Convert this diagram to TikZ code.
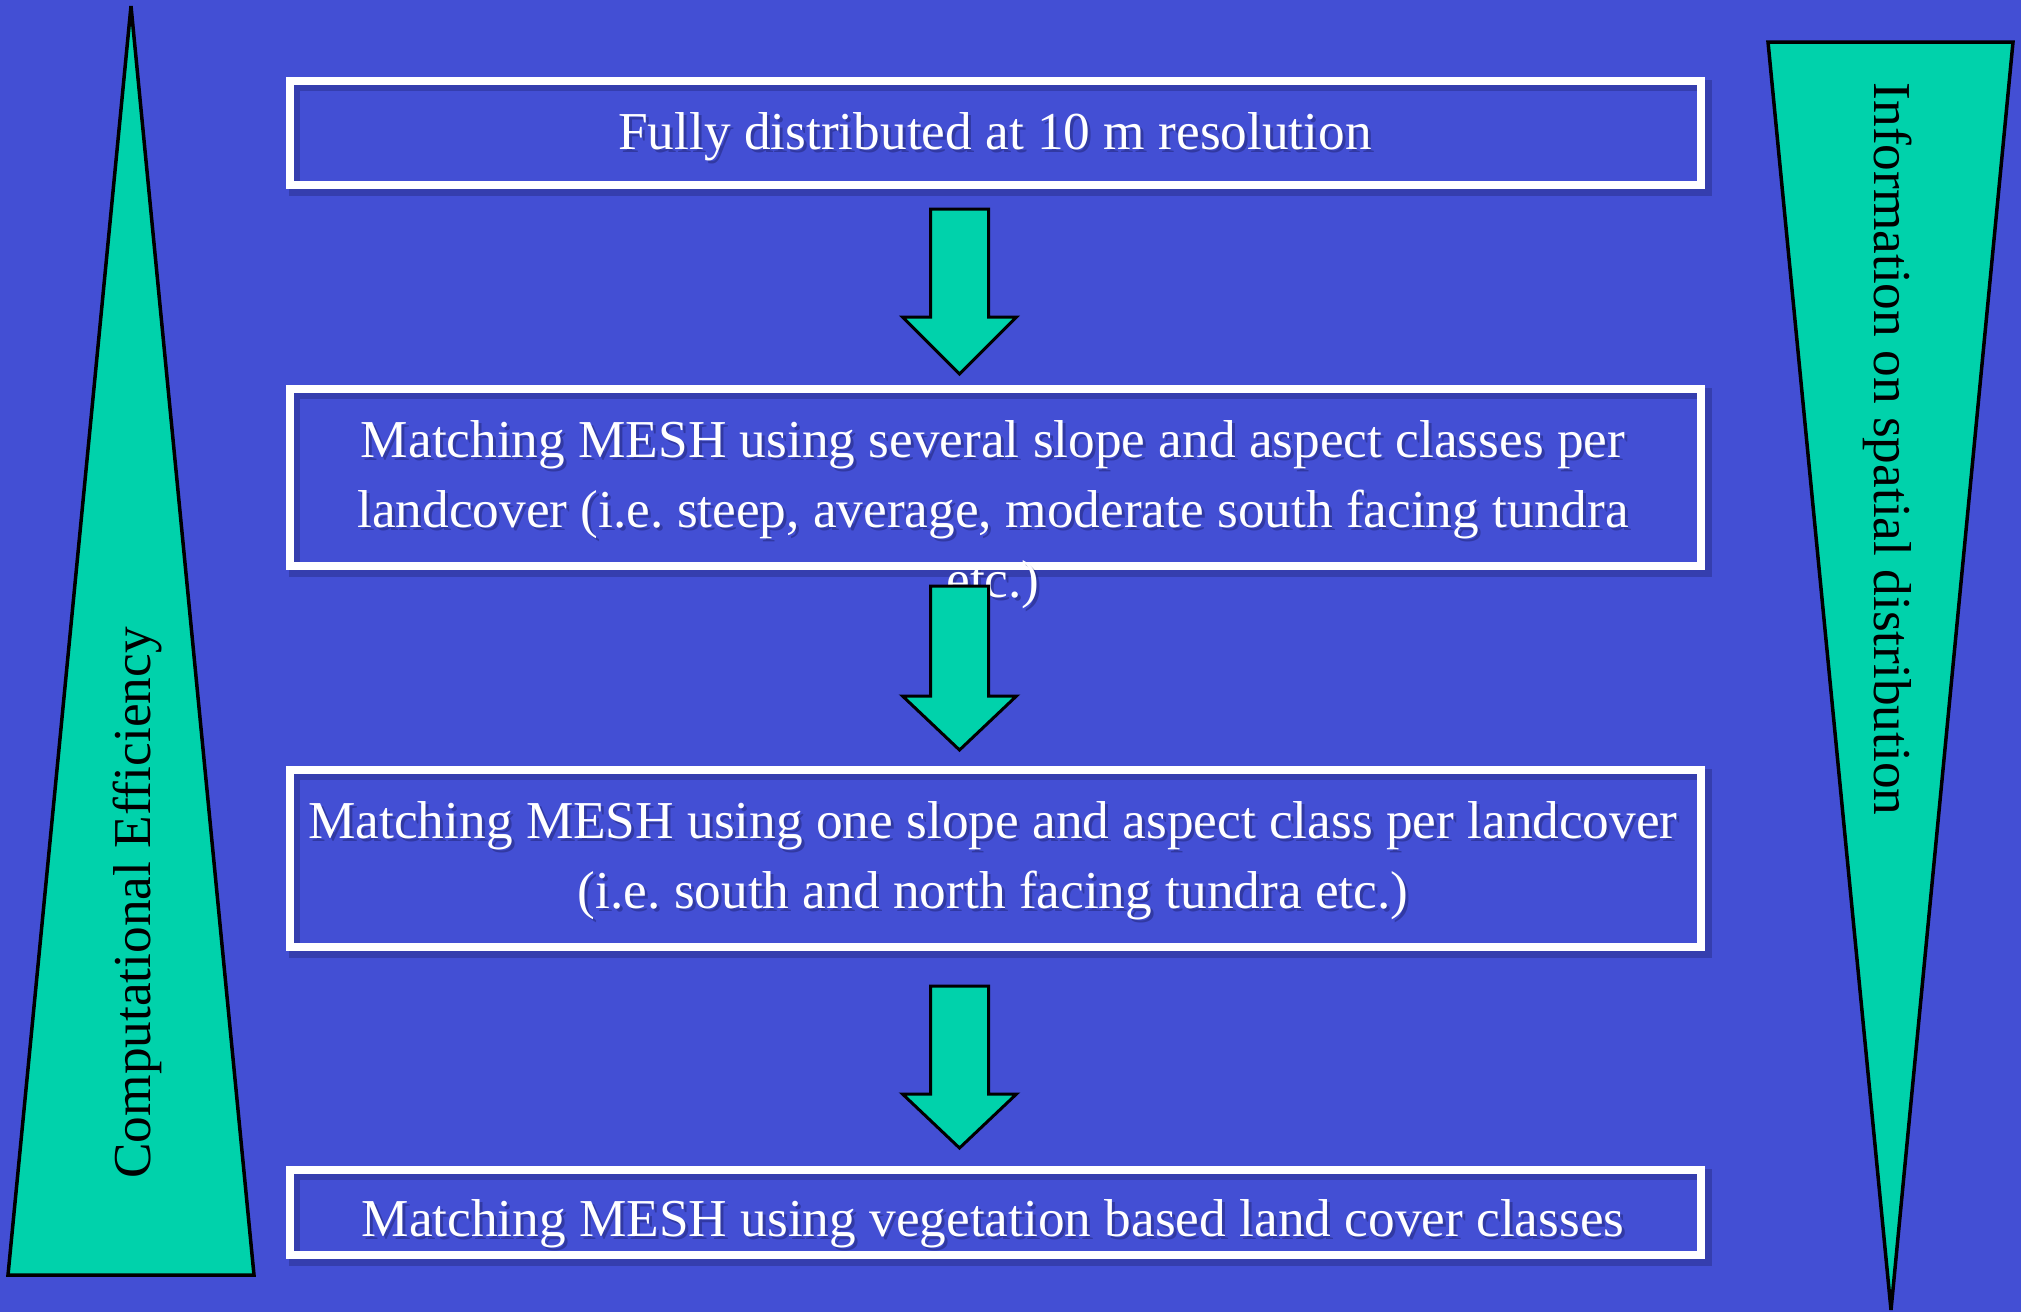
\documentclass[tikz,border=0pt]{standalone}
\usepackage{fontspec}
\setmainfont{Liberation Serif}
\frenchspacing
\definecolor{bg}{RGB}{67,79,212}
\definecolor{tealfill}{RGB}{0,210,171}
\definecolor{shade}{RGB}{28,32,105}
\begin{document}
\begin{tikzpicture}[x=1pt,y=-1pt,
  framebox/.style={draw=none,inner sep=0pt,minimum width=1411pt},
  framestroke/.style={draw=white,line width=8pt},
  frameshadow/.style={draw=shade,opacity=0.35,line width=11pt},
  lbl/.style={text=white,font=\fontsize{53.3}{70}\selectfont,align=center,inner sep=0pt},
  lblsh/.style={lbl,text=shade,opacity=0.45},
  sidelbl/.style={text=black,font=\fontsize{53.3}{70}\selectfont,inner sep=0pt},
  tri/.style={fill=tealfill,draw=black,line width=3.5pt,line join=miter},
  blockarrow/.style={fill=tealfill,draw=black,line width=3pt,line join=miter}]
\fill[bg] (0,0) rectangle (2021,1312);
\path[use as bounding box] (0,0) rectangle (2021,1312);

% side triangles
\draw[tri] (131,6) -- (254,1275) -- (8,1275) -- cycle;
\draw[tri] (1768,42) -- (2013,42) -- (1891,1310) -- cycle;
\node[sidelbl,rotate=90] (ce) at (137,903) {Computational Efficiency};
\node[sidelbl,rotate=-90] (isd) at (1888,449) {Information on spatial distribution};

% frames (positions)
\node[framebox,minimum height=104pt] (b1) at (995.5,133) {};
\node[framebox,minimum height=177pt] (b2) at (995.5,477.5) {};
\node[framebox,minimum height=177pt] (b3) at (995.5,858.5) {};
\node[framebox,minimum height=85pt] (b4) at (995.5,1212.5) {};

% frame shadows
\foreach \b in {b1,b2,b3,b4}{
  \draw[frameshadow] ([shift={(5,5)}]\b.north west) rectangle ([shift={(5,5)}]\b.south east);
}
% frames
\foreach \b in {b1,b2,b3,b4}{
  \draw[framestroke] (\b.north west) rectangle (\b.south east);
}

% texts with shadows
\node[lblsh] (t1s) at (998,140) {Fully distributed at 10 m resolution};
\node[lbl] (t1) at (995,137) {Fully distributed at 10 m resolution};
\node[lblsh] (t2s) at (996,518) {Matching MESH using several slope and aspect classes per\\landcover (i.e. steep, average, moderate south facing tundra\\etc.)};
\node[lbl] (t2) at (993,515) {Matching MESH using several slope and aspect classes per\\landcover (i.e. steep, average, moderate south facing tundra\\etc.)};
\node[lblsh] (t3s) at (996,863.5) {Matching MESH using one slope and aspect class per landcover\\(i.e. south and north facing tundra etc.)};
\node[lbl] (t3) at (993,860.5) {Matching MESH using one slope and aspect class per landcover\\(i.e. south and north facing tundra etc.)};
\node[lblsh] (t4s) at (996,1227) {Matching MESH using vegetation based land cover classes};
\node[lbl] (t4) at (993,1224) {Matching MESH using vegetation based land cover classes};

% block arrows
\foreach \n/\T/\H/\P in {a1/209/317/374, a2/586/696/750, a3/986/1094/1148}{
  \draw[blockarrow] (930.5,\T) -- (988.5,\T) -- (988.5,\H) -- (1016.5,\H) -- (959.5,\P)
     -- (902.5,\H) -- (930.5,\H) -- cycle;
}
\end{tikzpicture}
\end{document}
